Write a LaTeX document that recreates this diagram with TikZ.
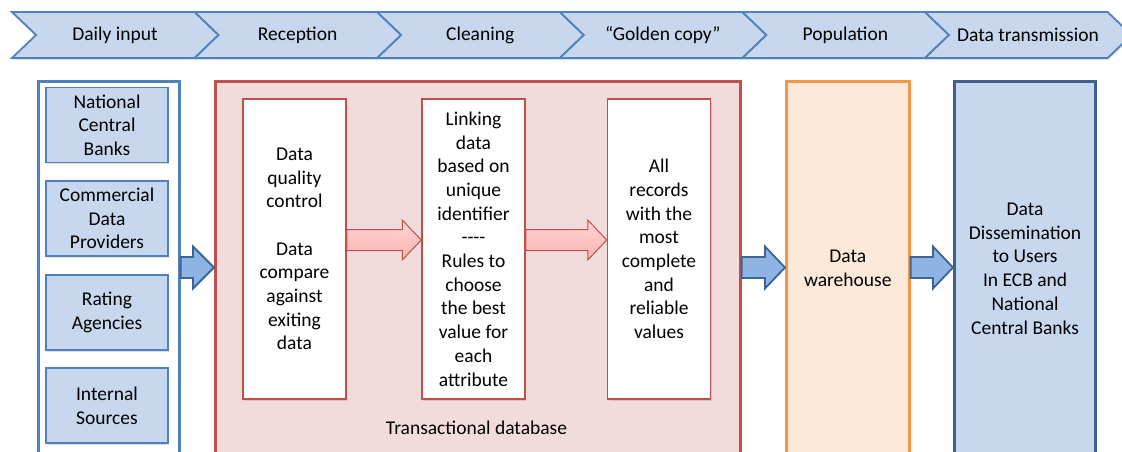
\documentclass[tikz,border=0pt]{standalone}
\usepackage{fontspec}
\setmainfont{Carlito}
\usetikzlibrary{shadows,calc}
\definecolor{chevfill}{HTML}{C6D7EE}
\definecolor{chevline}{HTML}{5081BD}
\definecolor{pinkfill}{HTML}{F2DCDB}
\definecolor{pinkline}{HTML}{C0504D}
\definecolor{arrpinktop}{HTML}{FDD6D5}
\definecolor{arrpinkbot}{HTML}{F8B2B0}
\definecolor{bluearrfill}{HTML}{8EB4E3}
\definecolor{bluearrline}{HTML}{3C6394}
\definecolor{whfill}{HTML}{FDE9D9}
\definecolor{whline}{HTML}{F79646}
\definecolor{rbline}{HTML}{3F618F}
\newcommand\blockarr[6]{\path[#1] let \p1=(#2), \p2=(#3) in (\x1,\y1+#4) -- (\x2-#6,\y1+#4) -- (\x2-#6,\y1+#5) -- (\x2,\y1) -- (\x2-#6,\y1-#5) -- (\x2-#6,\y1-#4) -- (\x1,\y1-#4) -- cycle;}
\tikzset{
  txt/.style={font=\fontsize{19.5}{23.7}\selectfont, align=center, inner sep=0pt},
  chev/.style={draw=chevline, line width=1.8pt, fill=chevfill, line join=miter,
    drop shadow={shadow xshift=1.2pt, shadow yshift=-1.8pt, opacity=0.25}},
  srcbox/.style={draw=chevline, line width=1.5pt, fill=chevfill, minimum width=122pt, minimum height=75pt,
    drop shadow={shadow xshift=1.2pt, shadow yshift=-1.5pt, opacity=0.25}, txt},
  outerbox/.style={draw=#1, line width=2.6pt, minimum height=374pt, anchor=north west, inner sep=0pt, txt},
  whitebox/.style={draw=pinkline, line width=1.5pt, fill=white, minimum width=103pt, minimum height=300pt,
    drop shadow={shadow xshift=1.2pt, shadow yshift=-1.5pt, opacity=0.25}, txt},
  pinkarr/.style={draw=pinkline, line width=1pt, top color=arrpinktop, bottom color=arrpinkbot, line join=miter},
  bluearr/.style={draw=bluearrline, line width=1.8pt, fill=bluearrfill, line join=miter},
}
\begin{document}
\begin{tikzpicture}[x=1pt,y=-1pt]
\useasboundingbox (0,0) rectangle (1122,451);
\clip (0,0) rectangle (1122,451);
% chevrons
\foreach \i/\lab in {0/Daily input,1/Reception,2/Cleaning,3/{“Golden copy”},4/Population,5/Data transmission} {
  \pgfmathsetmacro\sx{12+182.6*\i}
  \draw[chev] (\sx,12) -- ++(182.6,0) -- ++(24,23) -- ++(-24,23) -- ++(-182.6,0) -- ++(24,-23) -- cycle;
  \node[txt] (chev\i) at (\sx+103,35) {\lab};
}
% source column
\node[outerbox=chevline, fill=white, minimum width=141pt] (src) at (37,80) {};
\node[srcbox] (ncb) at (107,125) {National\\Central\\Banks};
\node[srcbox] (cdp) at (107,218.5) {Commercial\\Data\\Providers};
\node[srcbox] (ra) at (107,312.5) {Rating\\Agencies};
\node[srcbox] (is) at (107,405.5) {Internal\\Sources};
% transactional database
\node[outerbox=pinkline, fill=pinkfill, minimum width=525pt] (db) at (214,80) {};
\node[txt] (dblab) at (476.5,428) {Transactional database};
\node[whitebox] (A) at (294.5,249) {Data\\quality\\control\\[23.7pt]Data\\compare\\against\\exiting\\data};
\node[whitebox] (B) at (473.5,249) {Linking\\data\\based on\\unique\\identifier\\-{}-{}-{}-\\Rules to\\choose\\the best\\value for\\each\\attribute};
\node[whitebox] (C) at (659,249) {All\\records\\with the\\most\\complete\\and\\reliable\\values};
% warehouse
\node[outerbox=whline, fill=whfill, minimum width=123pt] (wh) at (785,80) {Data\\warehouse};
% dissemination
\node[outerbox=rbline, fill=chevfill, line width=3.2pt, minimum width=141pt] (diss) at (953,80) {Data\\Dissemination\\to Users\\In ECB and\\National\\Central Banks};
% arrows
\blockarr{pinkarr}{A.east |- 0,240}{B.west |- 0,240}{10.5pt}{20pt}{19pt}
\blockarr{pinkarr}{B.east |- 0,240}{C.west |- 0,240}{10.5pt}{20pt}{19pt}
\blockarr{bluearr}{src.east |- 0,267.5}{db.west |- 0,267.5}{10.5pt}{21pt}{21pt}
\blockarr{bluearr}{db.east |- 0,267.5}{wh.west |- 0,267.5}{10.5pt}{21pt}{20pt}
\blockarr{bluearr}{wh.east |- 0,267.5}{diss.west |- 0,267.5}{10.5pt}{21pt}{20pt}
\end{tikzpicture}
\end{document}
